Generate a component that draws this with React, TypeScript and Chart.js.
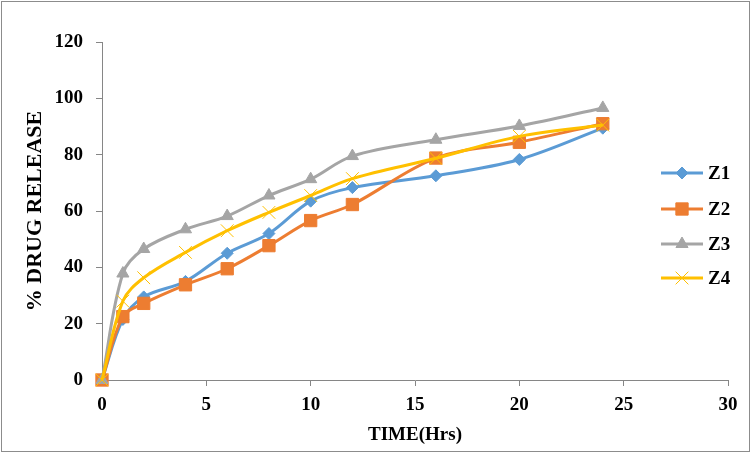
import React, { useEffect, useRef } from "react";
import { Chart, registerables } from "chart.js";
import { drawPoint } from "chart.js/helpers";

Chart.register(...registerables);

const timeHrs = [0, 1, 2, 4, 6, 8, 10, 12, 16, 20, 24];
const z1 = [0, 21.5, 29.5, 35, 45, 52, 63.5, 68.3, 72.5, 78.3, 89.4];
const z2 = [0, 22.5, 27.2, 33.8, 39.5, 47.7, 56.6, 62.3, 78.8, 84.4, 91];
const z3 = [0, 37.8, 46.5, 53.5, 58.2, 65.5, 71.3, 79.5, 85.3, 90.2, 96.6];
const z4 = [0, 28, 36.3, 45.3, 53, 59.5, 65.5, 71.5, 78.7, 86.5, 90.5];
const seriesNames = ["Z1", "Z2", "Z3", "Z4"];
const xTitle = "TIME(Hrs)";
const yTitle = "% DRUG RELEASE";

const FONT = "'Times New Roman', 'Liberation Serif', serif";
const AXIS = "#868686";

const toPts = (ys: number[]) => ys.map((y, i) => ({ x: timeHrs[i], y }));

const legendPlugin = {
  id: "customLegend",
  afterDraw(chart: any) {
    const ctx = chart.ctx;
    ctx.save();
    const rows = [173, 209, 244, 278];
    chart.data.datasets.forEach((ds: any, i: number) => {
      const y = rows[i];
      ctx.strokeStyle = ds.borderColor;
      ctx.lineWidth = 3;
      ctx.beginPath();
      ctx.moveTo(661, y);
      ctx.lineTo(703, y);
      ctx.stroke();
      ctx.fillStyle = ds.pointBackgroundColor;
      ctx.strokeStyle = ds.pointBorderColor;
      ctx.lineWidth = ds.pointBorderWidth;
      drawPoint(ctx, { pointStyle: ds.pointStyle, rotation: 0, radius: ds.pointRadius, borderWidth: ds.pointBorderWidth }, 682, y);
      ctx.fillStyle = "#000";
      ctx.font = `bold 19px ${FONT}`;
      ctx.textAlign = "left";
      ctx.textBaseline = "middle";
      ctx.fillText(ds.label, 708, y + 1);
    });
    ctx.strokeStyle = "#8c8c8c";
    ctx.lineWidth = 1;
    ctx.strokeRect(1.5, 1.5, 748, 450);
    ctx.restore();
  },
};

export default function App() {
  const ref = useRef<HTMLCanvasElement>(null);
  useEffect(() => {
    document.body.style.margin = "0";
    const mk = (i: number, data: number[], color: string, style: string, radius: number, order: number, fill: string, bw: number) => ({
      label: seriesNames[i],
      data: toPts(data),
      borderColor: color,
      backgroundColor: color,
      borderWidth: 3,
      pointStyle: style,
      pointRadius: radius,
      pointBackgroundColor: fill,
      pointBorderColor: color,
      pointBorderWidth: bw,
      tension: 0.35,
      order,
      clip: false as any,
    });
    const chart = new Chart(ref.current!, {
      type: "line",
      data: {
        datasets: [
          mk(0, z1, "#5B9BD5", "rectRot", 6, 4, "#5B9BD5", 1),
          mk(1, z2, "#ED7D31", "rect", 8.7, 3, "#ED7D31", 1),
          mk(2, z3, "#A5A5A5", "triangle", 7, 2, "#A5A5A5", 1),
          mk(3, z4, "#FFC000", "crossRot", 9, 1, "#FFC000", 1),
        ] as any,
      },
      options: {
        animation: false,
        responsive: false,
        devicePixelRatio: 1,
        layout: { padding: { left: 0, right: 25, top: 42, bottom: 0 } },
        plugins: { legend: { display: false }, tooltip: { enabled: false } },
        scales: {
          x: {
            type: "linear",
            min: 0,
            max: 30,
            afterFit: (s: any) => { s.height = 73; },
            ticks: { stepSize: 5, color: "#000", padding: 8, font: { family: FONT, size: 19, weight: "bold" } },
            grid: { drawOnChartArea: false, drawTicks: true, tickLength: 6, color: AXIS },
            border: { display: true, color: AXIS, width: 1 },
            title: { display: true, text: xTitle, color: "#000", padding: { top: 0, bottom: 6.6 }, font: { family: FONT, size: 19, weight: "bold" } },
          },
          y: {
            min: 0,
            max: 120,
            afterFit: (s: any) => { s.width = 102; },
            ticks: { stepSize: 20, color: "#000", padding: 13, font: { family: FONT, size: 19, weight: "bold" } },
            grid: { drawOnChartArea: false, drawTicks: true, tickLength: 6, color: AXIS },
            border: { display: true, color: AXIS, width: 1 },
            title: { display: true, text: yTitle, color: "#000", padding: { top: 22.5, bottom: 0 }, font: { family: FONT, size: 22, weight: "bold" } },
          },
        },
      },
      plugins: [legendPlugin],
    });
    return () => chart.destroy();
  }, []);
  return (
    <div style={{ position: "absolute", left: 0, top: 0, width: 753, height: 453 }}>
      <canvas ref={ref} width={753} height={453} style={{ display: "block" }} />
    </div>
  );
}
